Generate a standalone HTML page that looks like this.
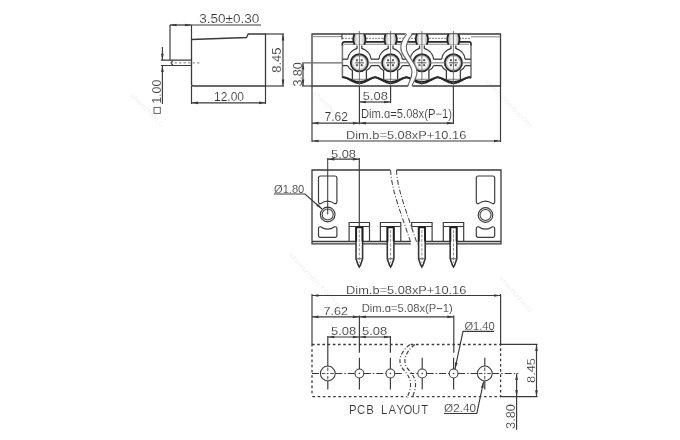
<!DOCTYPE html>
<html><head><meta charset="utf-8"><style>
html,body{margin:0;padding:0;background:#fff;width:680px;height:440px;overflow:hidden}
svg{display:block;will-change:transform}
text{font-family:"Liberation Sans",sans-serif}
</style></head><body>
<svg width="680" height="440" viewBox="0 0 680 440">
<rect width="680" height="440" fill="#fff"/>
<path d="M191.5,39.5 L246.5,37.5 L248.2,34 L265.5,34 L265.5,86 L193.5,86 Q191.5,86 191.5,84 Z" stroke="#3a3a3a" stroke-width="1.30" fill="none" />
<text transform="translate(500,276) rotate(48.5)" x="0" y="2.5" font-size="6.5" fill="#efefef" textLength="46.8" lengthAdjust="spacingAndGlyphs">shenzhen</text>
<text transform="translate(290,253.5) rotate(46.2)" x="0" y="2.5" font-size="6.5" fill="#efefef" textLength="72.3" lengthAdjust="spacingAndGlyphs">shenzhen.com.c</text>
<text transform="translate(486,80) rotate(45.0)" x="0" y="2.5" font-size="6.5" fill="#efefef" textLength="65.1" lengthAdjust="spacingAndGlyphs">shenzhen.com</text>
<text transform="translate(314.6,91.8) rotate(44.8)" x="0" y="2.5" font-size="6.5" fill="#efefef" textLength="35.8" lengthAdjust="spacingAndGlyphs">shenzhen.</text>
<text transform="translate(131.6,94) rotate(44.4)" x="0" y="2.5" font-size="6.5" fill="#efefef" textLength="44.0" lengthAdjust="spacingAndGlyphs">shenzhen.c</text>
<line x1="170" y1="25" x2="191.5" y2="25" stroke="#3a3a3a" stroke-width="1.30"/>
<line x1="191.5" y1="25" x2="261" y2="25" stroke="#3a3a3a" stroke-width="1.17"/>
<polygon points="170.00,25.00 176.50,23.65 176.50,26.35" fill="#3a3a3a"/>
<polygon points="191.50,25.00 185.00,23.65 185.00,26.35" fill="#3a3a3a"/>
<line x1="170" y1="25" x2="170" y2="60.2" stroke="#3a3a3a" stroke-width="1.17"/>
<line x1="191.5" y1="25" x2="191.5" y2="39.5" stroke="#3a3a3a" stroke-width="1.17"/>
<text transform="translate(199.2,23.4) scale(1.0,1)" x="0" y="0" font-size="12" fill="#333" stroke="#fff" stroke-width="0.15" textLength="60.20" lengthAdjust="spacingAndGlyphs">3.50±0.30</text>
<path d="M161,60.2 L191.5,60.2 M161,65.5 L191.5,65.5" stroke="#3a3a3a" stroke-width="1.17" fill="none" />
<path d="M173,60.4 Q170,62.9 173,65.3" stroke="#3a3a3a" stroke-width="1.17" fill="none" />
<line x1="170" y1="62.9" x2="199.5" y2="62.9" stroke="#777" stroke-width="0.91" stroke-dasharray="2.5,2"/>
<line x1="162.4" y1="47" x2="162.4" y2="60.2" stroke="#3a3a3a" stroke-width="1.17"/>
<polygon points="162.40,60.20 161.05,53.70 163.75,53.70" fill="#3a3a3a"/>
<line x1="162.4" y1="65.5" x2="162.4" y2="104" stroke="#3a3a3a" stroke-width="1.17"/>
<polygon points="162.40,65.50 161.05,72.00 163.75,72.00" fill="#3a3a3a"/>
<text transform="translate(161.0,103.8) rotate(-90) scale(1.0,1)" x="0" y="0" font-size="12" fill="#333" stroke="#fff" stroke-width="0.15" textLength="24.10" lengthAdjust="spacingAndGlyphs">1.00</text>
<rect x="154" y="107.4" width="6.3" height="6" stroke="#555" stroke-width="0.9" fill="none"/>
<line x1="191.5" y1="86" x2="191.5" y2="104" stroke="#3a3a3a" stroke-width="1.17"/>
<line x1="265.5" y1="86" x2="265.5" y2="104" stroke="#3a3a3a" stroke-width="1.17"/>
<line x1="191.5" y1="102.8" x2="265.5" y2="102.8" stroke="#3a3a3a" stroke-width="1.17"/>
<polygon points="191.50,102.80 198.00,101.45 198.00,104.15" fill="#3a3a3a"/>
<polygon points="265.50,102.80 259.00,101.45 259.00,104.15" fill="#3a3a3a"/>
<text transform="translate(214,100.6) scale(1.0,1)" x="0" y="0" font-size="12" fill="#333" stroke="#fff" stroke-width="0.15" textLength="30.00" lengthAdjust="spacingAndGlyphs">12.00</text>
<line x1="265.5" y1="34" x2="284" y2="34" stroke="#3a3a3a" stroke-width="1.17"/>
<line x1="265.5" y1="86" x2="284" y2="86" stroke="#3a3a3a" stroke-width="1.17"/>
<line x1="283" y1="34" x2="283" y2="86" stroke="#3a3a3a" stroke-width="1.17"/>
<polygon points="283.00,34.00 281.65,40.50 284.35,40.50" fill="#3a3a3a"/>
<polygon points="283.00,86.00 281.65,79.50 284.35,79.50" fill="#3a3a3a"/>
<text transform="translate(280.6,72.8) rotate(-90) scale(1.0,1)" x="0" y="0" font-size="12" fill="#333" stroke="#fff" stroke-width="0.15" textLength="25.40" lengthAdjust="spacingAndGlyphs">8.45</text>
<line x1="302" y1="86" x2="312" y2="86" stroke="#3a3a3a" stroke-width="1.17"/>
<line x1="303" y1="63" x2="303" y2="86" stroke="#3a3a3a" stroke-width="1.17"/>
<polygon points="303.00,63.00 301.65,69.50 304.35,69.50" fill="#3a3a3a"/>
<polygon points="303.00,86.00 301.65,79.50 304.35,79.50" fill="#3a3a3a"/>
<text transform="translate(301.8,86.6) rotate(-90) scale(1.0,1)" x="0" y="0" font-size="12" fill="#333" stroke="#fff" stroke-width="0.15" textLength="24.40" lengthAdjust="spacingAndGlyphs">3.80</text>
<defs><linearGradient id="barrel" x1="0" x2="1" y1="0" y2="0"><stop offset="0" stop-color="#999"/><stop offset="0.3" stop-color="#eee"/><stop offset="0.7" stop-color="#eee"/><stop offset="1" stop-color="#999"/></linearGradient></defs>
<path d="M312,34 L500.5,34 L500.5,86 L312,86 Z" stroke="#3a3a3a" stroke-width="1.30" fill="none" />
<line x1="312" y1="36.6" x2="342" y2="36.6" stroke="#888" stroke-width="1.04"/>
<line x1="471" y1="36.8" x2="500.5" y2="36.8" stroke="#888" stroke-width="1.04"/>
<line x1="342" y1="38.4" x2="471" y2="38.4" stroke="#999" stroke-width="1.43" stroke-dasharray="2,1"/>
<path d="M342,34 L342,39.5" stroke="#3a3a3a" stroke-width="1.17" fill="none" />
<path d="M342.4,46 L342.4,44 Q342.4,41.9 344.5,41.9 L469,41.9 Q471,41.9 471,44 L471,46" stroke="#2a2a2a" stroke-width="1.69" fill="none" />
<line x1="344" y1="44.3" x2="469" y2="44.3" stroke="#888" stroke-width="1.04"/>
<line x1="342.4" y1="45" x2="342.4" y2="77.5" stroke="#777" stroke-width="1.56"/>
<line x1="471" y1="45" x2="471" y2="78" stroke="#777" stroke-width="1.56"/>
<rect x="353.4" y="34.3" width="12" height="10" fill="url(#barrel)"/>
<path d="M354.59999999999997,34 Q351.79999999999995,39.2 354.59999999999997,44.6" stroke="#222" stroke-width="1.76" fill="none" />
<path d="M364.2,34 Q367.0,39.2 364.2,44.6" stroke="#222" stroke-width="1.76" fill="none" />
<path d="M357.0,45.5 L357.0,48.3 C353.4,49.5 348.09999999999997,53 347.7,59.2 M361.79999999999995,45.5 L361.79999999999995,48.3 C365.4,49.5 370.7,53 371.09999999999997,59.2" stroke="#3a3a3a" stroke-width="1.30" fill="none" />
<path d="M347.7,65.6 Q348.9,69 352.4,70.5 L352.4,79.5 M371.09999999999997,65.6 Q369.9,69 366.4,70.5 L366.4,79.5" stroke="#3a3a3a" stroke-width="1.30" fill="none" />
<line x1="352.4" y1="79.3" x2="366.4" y2="79.3" stroke="#888" stroke-width="1.04"/>
<circle cx="359.4" cy="62.8" r="7.0" stroke="#c4c4c4" stroke-width="1.56" fill="#fff"/>
<circle cx="359.4" cy="62.8" r="8.6" stroke="#2a2a2a" stroke-width="1.89" fill="none"/>
<rect x="355.9" y="59.199999999999996" width="2.0" height="2.0" fill="#555"/>
<rect x="360.69999999999993" y="59.199999999999996" width="2.0" height="2.0" fill="#555"/>
<rect x="355.9" y="64.2" width="2.0" height="2.0" fill="#555"/>
<rect x="360.69999999999993" y="64.2" width="2.0" height="2.0" fill="#555"/>
<line x1="354.9" y1="62.8" x2="363.9" y2="62.8" stroke="#666" stroke-width="1.17"/>
<rect x="384.6" y="34.3" width="12" height="10" fill="url(#barrel)"/>
<path d="M385.8,34 Q383.0,39.2 385.8,44.6" stroke="#222" stroke-width="1.76" fill="none" />
<path d="M395.40000000000003,34 Q398.20000000000005,39.2 395.40000000000003,44.6" stroke="#222" stroke-width="1.76" fill="none" />
<path d="M388.20000000000005,45.5 L388.20000000000005,48.3 C384.6,49.5 379.3,53 378.90000000000003,59.2 M393.0,45.5 L393.0,48.3 C396.6,49.5 401.90000000000003,53 402.3,59.2" stroke="#3a3a3a" stroke-width="1.30" fill="none" />
<path d="M378.90000000000003,65.6 Q380.1,69 383.6,70.5 L383.6,79.5 M402.3,65.6 Q401.1,69 397.6,70.5 L397.6,79.5" stroke="#3a3a3a" stroke-width="1.30" fill="none" />
<line x1="383.6" y1="79.3" x2="397.6" y2="79.3" stroke="#888" stroke-width="1.04"/>
<circle cx="390.6" cy="62.8" r="7.0" stroke="#c4c4c4" stroke-width="1.56" fill="#fff"/>
<circle cx="390.6" cy="62.8" r="8.6" stroke="#2a2a2a" stroke-width="1.89" fill="none"/>
<rect x="387.1" y="59.199999999999996" width="2.0" height="2.0" fill="#555"/>
<rect x="391.9" y="59.199999999999996" width="2.0" height="2.0" fill="#555"/>
<rect x="387.1" y="64.2" width="2.0" height="2.0" fill="#555"/>
<rect x="391.9" y="64.2" width="2.0" height="2.0" fill="#555"/>
<line x1="386.1" y1="62.8" x2="395.1" y2="62.8" stroke="#666" stroke-width="1.17"/>
<rect x="415.9" y="34.3" width="12" height="10" fill="url(#barrel)"/>
<path d="M417.09999999999997,34 Q414.29999999999995,39.2 417.09999999999997,44.6" stroke="#222" stroke-width="1.76" fill="none" />
<path d="M426.7,34 Q429.5,39.2 426.7,44.6" stroke="#222" stroke-width="1.76" fill="none" />
<path d="M419.5,45.5 L419.5,48.3 C415.9,49.5 410.59999999999997,53 410.2,59.2 M424.29999999999995,45.5 L424.29999999999995,48.3 C427.9,49.5 433.2,53 433.59999999999997,59.2" stroke="#3a3a3a" stroke-width="1.30" fill="none" />
<path d="M410.2,65.6 Q411.4,69 414.9,70.5 L414.9,79.5 M433.59999999999997,65.6 Q432.4,69 428.9,70.5 L428.9,79.5" stroke="#3a3a3a" stroke-width="1.30" fill="none" />
<line x1="414.9" y1="79.3" x2="428.9" y2="79.3" stroke="#888" stroke-width="1.04"/>
<circle cx="421.9" cy="62.8" r="7.0" stroke="#c4c4c4" stroke-width="1.56" fill="#fff"/>
<circle cx="421.9" cy="62.8" r="8.6" stroke="#2a2a2a" stroke-width="1.89" fill="none"/>
<rect x="418.4" y="59.199999999999996" width="2.0" height="2.0" fill="#555"/>
<rect x="423.19999999999993" y="59.199999999999996" width="2.0" height="2.0" fill="#555"/>
<rect x="418.4" y="64.2" width="2.0" height="2.0" fill="#555"/>
<rect x="423.19999999999993" y="64.2" width="2.0" height="2.0" fill="#555"/>
<line x1="417.4" y1="62.8" x2="426.4" y2="62.8" stroke="#666" stroke-width="1.17"/>
<rect x="447.4" y="34.3" width="12" height="10" fill="url(#barrel)"/>
<path d="M448.59999999999997,34 Q445.79999999999995,39.2 448.59999999999997,44.6" stroke="#222" stroke-width="1.76" fill="none" />
<path d="M458.2,34 Q461.0,39.2 458.2,44.6" stroke="#222" stroke-width="1.76" fill="none" />
<path d="M451.0,45.5 L451.0,48.3 C447.4,49.5 442.09999999999997,53 441.7,59.2 M455.79999999999995,45.5 L455.79999999999995,48.3 C459.4,49.5 464.7,53 465.09999999999997,59.2" stroke="#3a3a3a" stroke-width="1.30" fill="none" />
<path d="M441.7,65.6 Q442.9,69 446.4,70.5 L446.4,79.5 M465.09999999999997,65.6 Q463.9,69 460.4,70.5 L460.4,79.5" stroke="#3a3a3a" stroke-width="1.30" fill="none" />
<line x1="446.4" y1="79.3" x2="460.4" y2="79.3" stroke="#888" stroke-width="1.04"/>
<circle cx="453.4" cy="62.8" r="7.0" stroke="#c4c4c4" stroke-width="1.56" fill="#fff"/>
<circle cx="453.4" cy="62.8" r="8.6" stroke="#2a2a2a" stroke-width="1.89" fill="none"/>
<rect x="449.9" y="59.199999999999996" width="2.0" height="2.0" fill="#555"/>
<rect x="454.69999999999993" y="59.199999999999996" width="2.0" height="2.0" fill="#555"/>
<rect x="449.9" y="64.2" width="2.0" height="2.0" fill="#555"/>
<rect x="454.69999999999993" y="64.2" width="2.0" height="2.0" fill="#555"/>
<line x1="448.9" y1="62.8" x2="457.9" y2="62.8" stroke="#666" stroke-width="1.17"/>
<line x1="342.4" y1="59.2" x2="347.79999999999995" y2="59.2" stroke="#3a3a3a" stroke-width="1.30"/>
<line x1="342.4" y1="65.6" x2="347.79999999999995" y2="65.6" stroke="#3a3a3a" stroke-width="1.30"/>
<line x1="371.0" y1="59.2" x2="379.0" y2="59.2" stroke="#3a3a3a" stroke-width="1.30"/>
<line x1="371.0" y1="65.6" x2="379.0" y2="65.6" stroke="#3a3a3a" stroke-width="1.30"/>
<line x1="402.20000000000005" y1="59.2" x2="410.29999999999995" y2="59.2" stroke="#3a3a3a" stroke-width="1.30"/>
<line x1="402.20000000000005" y1="65.6" x2="410.29999999999995" y2="65.6" stroke="#3a3a3a" stroke-width="1.30"/>
<line x1="433.5" y1="59.2" x2="441.79999999999995" y2="59.2" stroke="#3a3a3a" stroke-width="1.30"/>
<line x1="433.5" y1="65.6" x2="441.79999999999995" y2="65.6" stroke="#3a3a3a" stroke-width="1.30"/>
<line x1="465.0" y1="59.2" x2="471" y2="59.2" stroke="#3a3a3a" stroke-width="1.30"/>
<line x1="465.0" y1="65.6" x2="471" y2="65.6" stroke="#3a3a3a" stroke-width="1.30"/>
<line x1="302" y1="62.8" x2="342" y2="62.8" stroke="#666" stroke-width="1.17"/>
<line x1="367.9" y1="62.8" x2="382.1" y2="62.8" stroke="#888" stroke-width="1.17"/>
<line x1="399.1" y1="62.8" x2="413.4" y2="62.8" stroke="#888" stroke-width="1.17"/>
<line x1="430.4" y1="62.8" x2="444.9" y2="62.8" stroke="#888" stroke-width="1.17"/>
<line x1="461.9" y1="62.8" x2="471" y2="62.8" stroke="#888" stroke-width="1.17"/>
<path d="M342.4,77.52 L342.9,77.41 L343.4,77.33 L343.9,77.31 L344.4,77.38 L344.9,77.48 L345.4,77.61 L345.9,77.76 L346.4,77.92 L346.9,78.10 L347.4,78.29 L347.9,78.49 L348.4,78.69 L348.9,78.90 L349.4,79.12 L349.9,79.33 L350.4,79.54 L350.9,79.76 L351.4,79.97 L351.9,80.17 L352.4,80.37 L352.9,80.56 L353.4,80.74 L353.9,80.92 L354.4,81.08 L354.9,81.23 L355.4,81.36 L355.9,81.49 L356.4,81.59 L356.9,81.69 L357.4,81.76 L357.9,81.82 L358.4,81.87 L358.9,81.89 L359.4,81.90 L359.9,81.89 L360.4,81.87 L360.9,81.82 L361.4,81.76 L361.9,81.69 L362.4,81.59 L362.9,81.49 L363.4,81.36 L363.9,81.23 L364.4,81.08 L364.9,80.92 L365.4,80.74 L365.9,80.56 L366.4,80.37 L366.9,80.17 L367.4,79.97 L367.9,79.76 L368.4,79.54 L368.9,79.33 L369.4,79.12 L369.9,78.90 L370.4,78.69 L370.9,78.49 L371.4,78.29 L371.9,78.10 L372.4,77.92 L372.9,77.76 L373.4,77.61 L373.9,77.48 L374.4,77.38 L374.9,77.31 L375.4,77.33 L375.9,77.41 L376.4,77.52 L376.9,77.66 L377.4,77.81 L377.9,77.98 L378.4,78.16 L378.9,78.36 L379.4,78.56 L379.9,78.76 L380.4,78.97 L380.9,79.19 L381.4,79.40 L381.9,79.62 L382.4,79.83 L382.9,80.04 L383.4,80.24 L383.9,80.44 L384.4,80.62 L384.9,80.80 L385.4,80.97 L385.9,81.13 L386.4,81.27 L386.9,81.41 L387.4,81.52 L387.9,81.63 L388.4,81.71 L388.9,81.78 L389.4,81.84 L389.9,81.88 L390.4,81.90 L390.9,81.90 L391.4,81.88 L391.9,81.85 L392.4,81.80 L392.9,81.74 L393.4,81.66 L393.9,81.56 L394.4,81.45 L394.9,81.32 L395.4,81.18 L395.9,81.02 L396.4,80.86 L396.9,80.68 L397.4,80.50 L397.9,80.30 L398.4,80.10 L398.9,79.90 L399.4,79.68 L399.9,79.47 L400.4,79.26 L400.9,79.04 L401.4,78.83 L401.9,78.62 L402.4,78.42 L402.9,78.23 L403.4,78.04 L403.9,77.87 L404.4,77.71 L404.9,77.57 L405.4,77.44 L405.9,77.35 L406.4,77.30 L406.9,77.35 L407.4,77.45 L407.9,77.57 L408.4,77.71 L408.9,77.87 L409.4,78.04 L409.9,78.23 L410.4,78.42 L410.9,78.63 L411.4,78.83 L411.9,79.05 L412.4,79.26 L412.9,79.48 L413.4,79.69 L413.9,79.90 L414.4,80.11 L414.9,80.31 L415.4,80.50 L415.9,80.69 L416.4,80.86 L416.9,81.03 L417.4,81.18 L417.9,81.32 L418.4,81.45 L418.9,81.56 L419.4,81.66 L419.9,81.74 L420.4,81.80 L420.9,81.85 L421.4,81.88 L421.9,81.90 L422.4,81.90 L422.9,81.88 L423.4,81.84 L423.9,81.78 L424.4,81.71 L424.9,81.62 L425.4,81.52 L425.9,81.40 L426.4,81.27 L426.9,81.13 L427.4,80.97 L427.9,80.80 L428.4,80.62 L428.9,80.43 L429.4,80.24 L429.9,80.03 L430.4,79.82 L430.9,79.61 L431.4,79.40 L431.9,79.18 L432.4,78.97 L432.9,78.76 L433.4,78.55 L433.9,78.35 L434.4,78.16 L434.9,77.98 L435.4,77.81 L435.9,77.66 L436.4,77.52 L436.9,77.41 L437.4,77.33 L437.9,77.31 L438.4,77.38 L438.9,77.49 L439.4,77.61 L439.9,77.76 L440.4,77.93 L440.9,78.11 L441.4,78.29 L441.9,78.49 L442.4,78.70 L442.9,78.91 L443.4,79.12 L443.9,79.33 L444.4,79.55 L444.9,79.76 L445.4,79.97 L445.9,80.17 L446.4,80.37 L446.9,80.56 L447.4,80.75 L447.9,80.92 L448.4,81.08 L448.9,81.23 L449.4,81.37 L449.9,81.49 L450.4,81.60 L450.9,81.69 L451.4,81.76 L451.9,81.82 L452.4,81.87 L452.9,81.89 L453.4,81.90 L453.9,81.89 L454.4,81.86 L454.9,81.82 L455.4,81.76 L455.9,81.68 L456.4,81.59 L456.9,81.48 L457.4,81.36 L457.9,81.22 L458.4,81.07 L458.9,80.91 L459.4,80.74 L459.9,80.56 L460.4,80.37 L460.9,80.17 L461.4,79.96 L461.9,79.75 L462.4,79.54 L462.9,79.33 L463.4,79.11 L463.9,78.90 L464.4,78.69 L464.9,78.48 L465.4,78.29 L465.9,78.10 L466.4,77.92 L466.9,77.76 L467.4,77.61 L467.9,77.48 L468.4,77.38 L468.9,77.31 L469.4,77.33 L469.9,77.41 L470.4,77.53 L470.9,77.66" stroke="#222" stroke-width="1.95" fill="none" />
<path d="M342.4,77.59 L342.9,77.45 L343.4,77.34 L343.9,77.31 L344.4,77.40 L344.9,77.54 L345.4,77.71 L345.9,77.90 L346.4,78.11 L346.9,78.35 L347.4,78.59 L347.9,78.85 L348.4,79.12 L348.9,79.39 L349.4,79.67 L349.9,79.95 L350.4,80.23 L350.9,80.50 L351.4,80.78 L351.9,81.04 L352.4,81.30 L352.9,81.55 L353.4,81.79 L353.9,82.02 L354.4,82.23 L354.9,82.42 L355.4,82.60 L355.9,82.76 L356.4,82.90 L356.9,83.02 L357.4,83.12 L357.9,83.20 L358.4,83.25 L358.9,83.29 L359.4,83.30 L359.9,83.29 L360.4,83.25 L360.9,83.20 L361.4,83.12 L361.9,83.02 L362.4,82.90 L362.9,82.76 L363.4,82.60 L363.9,82.42 L364.4,82.23 L364.9,82.02 L365.4,81.79 L365.9,81.55 L366.4,81.30 L366.9,81.04 L367.4,80.78 L367.9,80.50 L368.4,80.23 L368.9,79.95 L369.4,79.67 L369.9,79.39 L370.4,79.12 L370.9,78.85 L371.4,78.59 L371.9,78.35 L372.4,78.11 L372.9,77.90 L373.4,77.71 L373.9,77.54 L374.4,77.40 L374.9,77.31 L375.4,77.34 L375.9,77.45 L376.4,77.59 L376.9,77.77 L377.4,77.97 L377.9,78.19 L378.4,78.43 L378.9,78.68 L379.4,78.94 L379.9,79.21 L380.4,79.48 L380.9,79.76 L381.4,80.04 L381.9,80.32 L382.4,80.60 L382.9,80.87 L383.4,81.13 L383.9,81.39 L384.4,81.64 L384.9,81.87 L385.4,82.09 L385.9,82.30 L386.4,82.48 L386.9,82.66 L387.4,82.81 L387.9,82.94 L388.4,83.06 L388.9,83.15 L389.4,83.22 L389.9,83.27 L390.4,83.30 L390.9,83.30 L391.4,83.28 L391.9,83.24 L392.4,83.17 L392.9,83.09 L393.4,82.98 L393.9,82.85 L394.4,82.71 L394.9,82.54 L395.4,82.36 L395.9,82.16 L396.4,81.94 L396.9,81.71 L397.4,81.47 L397.9,81.22 L398.4,80.95 L398.9,80.69 L399.4,80.41 L399.9,80.13 L400.4,79.85 L400.9,79.57 L401.4,79.30 L401.9,79.03 L402.4,78.76 L402.9,78.51 L403.4,78.27 L403.9,78.04 L404.4,77.83 L404.9,77.65 L405.4,77.49 L405.9,77.37 L406.4,77.30 L406.9,77.37 L407.4,77.49 L407.9,77.65 L408.4,77.84 L408.9,78.04 L409.4,78.27 L409.9,78.51 L410.4,78.77 L410.9,79.03 L411.4,79.30 L411.9,79.58 L412.4,79.86 L412.9,80.14 L413.4,80.42 L413.9,80.69 L414.4,80.96 L414.9,81.22 L415.4,81.47 L415.9,81.72 L416.4,81.95 L416.9,82.16 L417.4,82.36 L417.9,82.55 L418.4,82.71 L418.9,82.86 L419.4,82.98 L419.9,83.09 L420.4,83.18 L420.9,83.24 L421.4,83.28 L421.9,83.30 L422.4,83.29 L422.9,83.27 L423.4,83.22 L423.9,83.15 L424.4,83.06 L424.9,82.94 L425.4,82.81 L425.9,82.65 L426.4,82.48 L426.9,82.29 L427.4,82.09 L427.9,81.86 L428.4,81.63 L428.9,81.38 L429.4,81.13 L429.9,80.86 L430.4,80.59 L430.9,80.32 L431.4,80.04 L431.9,79.76 L432.4,79.48 L432.9,79.20 L433.4,78.93 L433.9,78.67 L434.4,78.42 L434.9,78.19 L435.4,77.97 L435.9,77.77 L436.4,77.59 L436.9,77.44 L437.4,77.34 L437.9,77.31 L438.4,77.41 L438.9,77.54 L439.4,77.71 L439.9,77.90 L440.4,78.12 L440.9,78.35 L441.4,78.60 L441.9,78.86 L442.4,79.12 L442.9,79.40 L443.4,79.67 L443.9,79.95 L444.4,80.23 L444.9,80.51 L445.4,80.78 L445.9,81.05 L446.4,81.31 L446.9,81.56 L447.4,81.80 L447.9,82.02 L448.4,82.23 L448.9,82.43 L449.4,82.60 L449.9,82.76 L450.4,82.90 L450.9,83.02 L451.4,83.12 L451.9,83.20 L452.4,83.26 L452.9,83.29 L453.4,83.30 L453.9,83.29 L454.4,83.25 L454.9,83.20 L455.4,83.12 L455.9,83.02 L456.4,82.90 L456.9,82.76 L457.4,82.60 L457.9,82.42 L458.4,82.22 L458.9,82.01 L459.4,81.79 L459.9,81.55 L460.4,81.30 L460.9,81.04 L461.4,80.77 L461.9,80.50 L462.4,80.22 L462.9,79.94 L463.4,79.66 L463.9,79.38 L464.4,79.11 L464.9,78.84 L465.4,78.59 L465.9,78.34 L466.4,78.11 L466.9,77.90 L467.4,77.70 L467.9,77.54 L468.4,77.40 L468.9,77.31 L469.4,77.34 L469.9,77.45 L470.4,77.60 L470.9,77.77" stroke="#2a2a2a" stroke-width="1.56" fill="none" />
<line x1="359.4" y1="31" x2="359.4" y2="86" stroke="#666" stroke-width="0.91"/>
<line x1="390.6" y1="31" x2="390.6" y2="86" stroke="#666" stroke-width="0.91"/>
<line x1="421.9" y1="31" x2="421.9" y2="86" stroke="#666" stroke-width="0.91"/>
<line x1="453.4" y1="31" x2="453.4" y2="86" stroke="#666" stroke-width="0.91"/>
<path d="M406.7,32 C402,40 400,45 401,50 C403,58 412,64 412,72 C412,78 409,82 407.8,88 L412,88 C413,82 417,78 417,72 C417,64 408.5,58 406.5,50 C405.5,45 407.5,40 412.5,32 Z" stroke="#fff" stroke-width="0.00" fill="#fff" />
<path d="M406.7,34 C402,40 400,45 401,50 C403,58 412,64 412,72 C412,78 409,82 407.8,86" stroke="#666" stroke-width="1.17" fill="none" />
<path d="M412.5,34 C407.5,40 405.5,45 406.5,50 C408.5,58 417,64 417,72 C417,78 413,82 412,86" stroke="#666" stroke-width="1.17" fill="none" />
<line x1="312" y1="86" x2="312" y2="142" stroke="#3a3a3a" stroke-width="1.17"/>
<line x1="500.5" y1="86" x2="500.5" y2="142" stroke="#3a3a3a" stroke-width="1.17"/>
<line x1="359.4" y1="86" x2="359.4" y2="124.3" stroke="#3a3a3a" stroke-width="1.17"/>
<line x1="390.6" y1="86" x2="390.6" y2="103" stroke="#3a3a3a" stroke-width="1.17"/>
<line x1="453.4" y1="86" x2="453.4" y2="124" stroke="#3a3a3a" stroke-width="1.17"/>
<line x1="359.4" y1="102" x2="390.6" y2="102" stroke="#3a3a3a" stroke-width="1.17"/>
<polygon points="359.40,102.00 365.90,100.65 365.90,103.35" fill="#3a3a3a"/>
<polygon points="390.60,102.00 384.10,100.65 384.10,103.35" fill="#3a3a3a"/>
<text transform="translate(362.8,100.2) scale(1.0,1)" x="0" y="0" font-size="11.5" fill="#333" stroke="#fff" stroke-width="0.15" textLength="25.20" lengthAdjust="spacingAndGlyphs">5.08</text>
<line x1="312" y1="123.2" x2="453.4" y2="123.2" stroke="#3a3a3a" stroke-width="1.17"/>
<polygon points="312.00,123.20 318.50,121.85 318.50,124.55" fill="#3a3a3a"/>
<polygon points="359.40,123.20 352.90,121.85 352.90,124.55" fill="#3a3a3a"/>
<polygon points="359.40,123.20 365.90,121.85 365.90,124.55" fill="#3a3a3a"/>
<polygon points="453.40,123.20 446.90,121.85 446.90,124.55" fill="#3a3a3a"/>
<text transform="translate(324.4,121.4) scale(1.0,1)" x="0" y="0" font-size="12" fill="#333" stroke="#fff" stroke-width="0.15" textLength="23.60" lengthAdjust="spacingAndGlyphs">7.62</text>
<text transform="translate(360.9,118.4) scale(1.0,1)" x="0" y="0" font-size="12" fill="#333" stroke="#fff" stroke-width="0.15" textLength="91.10" lengthAdjust="spacingAndGlyphs">Dim.ɑ=5.08x(P−1)</text>
<line x1="312" y1="141" x2="500.5" y2="141" stroke="#3a3a3a" stroke-width="1.17"/>
<polygon points="312.00,141.00 318.50,139.65 318.50,142.35" fill="#3a3a3a"/>
<polygon points="500.50,141.00 494.00,139.65 494.00,142.35" fill="#3a3a3a"/>
<text transform="translate(346,139.2) scale(1.0,1)" x="0" y="0" font-size="11.5" fill="#333" stroke="#fff" stroke-width="0.15" textLength="120.30" lengthAdjust="spacingAndGlyphs">Dim.b=5.08xP+10.16</text>
<path d="M390.5,170 L312,170 L312,243.9 L411.6,243.9 M411.6,241.5 L312,241.5" stroke="#3a3a3a" stroke-width="1.30" fill="none" />
<path d="M396.2,170 L501,170 L501,243.9 L417.7,243.9 M417.7,241.5 L501,241.5" stroke="#3a3a3a" stroke-width="1.30" fill="none" />
<path d="M318.5,178 Q318.5,176 320.5,176 L334.9,176 Q336.9,176 336.9,178 L336.9,201.5 Q336.9,204 334.7,203.6 Q327.7,198.5 320.7,203.6 Q318.5,204 318.5,201.5 Z" stroke="#3a3a3a" stroke-width="1.17" fill="none" />
<circle cx="327.7" cy="214.5" r="7.3" stroke="#3a3a3a" stroke-width="1.17" fill="none"/>
<circle cx="327.7" cy="214.5" r="5.5" stroke="#3a3a3a" stroke-width="1.04" fill="none"/>
<path d="M318.5,229 Q318.5,226.5 320.7,226.8 Q327.7,231.6 334.7,226.8 Q336.9,226.5 336.9,229 L336.9,235.5 Q336.9,237.4 334.9,237.4 L320.5,237.4 Q318.5,237.4 318.5,235.5 Z" stroke="#3a3a3a" stroke-width="1.17" fill="none" />
<path d="M476.3,178 Q476.3,176 478.3,176 L492.7,176 Q494.7,176 494.7,178 L494.7,201.5 Q494.7,204 492.5,203.6 Q485.5,198.5 478.5,203.6 Q476.3,204 476.3,201.5 Z" stroke="#3a3a3a" stroke-width="1.17" fill="none" />
<circle cx="485.5" cy="215" r="7.3" stroke="#3a3a3a" stroke-width="1.17" fill="none"/>
<circle cx="485.5" cy="215" r="5.5" stroke="#3a3a3a" stroke-width="1.04" fill="none"/>
<path d="M476.3,229 Q476.3,226.5 478.5,226.8 Q485.5,231.6 492.5,226.8 Q494.7,226.5 494.7,229 L494.7,235.5 Q494.7,237.4 492.7,237.4 L478.3,237.4 Q476.3,237.4 476.3,235.5 Z" stroke="#3a3a3a" stroke-width="1.17" fill="none" />
<line x1="327.7" y1="158" x2="327.7" y2="214.5" stroke="#3a3a3a" stroke-width="1.04"/>
<line x1="359.3" y1="158" x2="359.3" y2="227.5" stroke="#3a3a3a" stroke-width="1.17"/>
<line x1="327.7" y1="159.2" x2="359.3" y2="159.2" stroke="#3a3a3a" stroke-width="1.17"/>
<polygon points="327.70,159.20 334.20,157.85 334.20,160.55" fill="#3a3a3a"/>
<polygon points="359.30,159.20 352.80,157.85 352.80,160.55" fill="#3a3a3a"/>
<text transform="translate(331,157.8) scale(1.0,1)" x="0" y="0" font-size="11.5" fill="#333" stroke="#fff" stroke-width="0.15" textLength="25.00" lengthAdjust="spacingAndGlyphs">5.08</text>
<text transform="translate(274,192.6) scale(1.0,1)" x="0" y="0" font-size="11.5" fill="#333" stroke="#fff" stroke-width="0.15" textLength="30.30" lengthAdjust="spacingAndGlyphs">Ø1.80</text>
<path d="M274,194 L305,194 L322,209" stroke="#3a3a3a" stroke-width="1.17" fill="none" />
<polygon points="322.00,209.00 316.23,205.71 318.02,203.69" fill="#3a3a3a"/>
<path d="M349.1,241.5 L349.1,222.5 L369.5,222.5 L369.5,241.5" stroke="#3a3a3a" stroke-width="1.17" fill="none" />
<line x1="349.1" y1="226.5" x2="369.5" y2="226.5" stroke="#3a3a3a" stroke-width="1.04"/>
<path d="M356.0,244 L356.0,227 L362.6,227 L362.6,258.8 L360.5,265 L359.3,267 L358.1,265 L356.0,258.8 Z" stroke="#333" stroke-width="1.56" fill="#fff" />
<path d="M356.2,241.5 L356.2,227.3 L362.40000000000003,227.3 L362.40000000000003,241.5" stroke="#1e1e1e" stroke-width="1.76" fill="none" />
<line x1="356.0" y1="258.8" x2="362.6" y2="258.8" stroke="#555" stroke-width="1.04"/>
<line x1="359.3" y1="230" x2="359.3" y2="263" stroke="#888" stroke-width="0.91" stroke-dasharray="3,1.5"/>
<path d="M380.40000000000003,241.5 L380.40000000000003,222.5 L400.8,222.5 L400.8,241.5" stroke="#3a3a3a" stroke-width="1.17" fill="none" />
<line x1="380.40000000000003" y1="226.5" x2="400.8" y2="226.5" stroke="#3a3a3a" stroke-width="1.04"/>
<path d="M387.3,244 L387.3,227 L393.90000000000003,227 L393.90000000000003,258.8 L391.8,265 L390.6,267 L389.40000000000003,265 L387.3,258.8 Z" stroke="#333" stroke-width="1.56" fill="#fff" />
<path d="M387.5,241.5 L387.5,227.3 L393.70000000000005,227.3 L393.70000000000005,241.5" stroke="#1e1e1e" stroke-width="1.76" fill="none" />
<line x1="387.3" y1="258.8" x2="393.90000000000003" y2="258.8" stroke="#555" stroke-width="1.04"/>
<line x1="390.6" y1="230" x2="390.6" y2="263" stroke="#888" stroke-width="0.91" stroke-dasharray="3,1.5"/>
<path d="M411.7,241.5 L411.7,222.5 L432.09999999999997,222.5 L432.09999999999997,241.5" stroke="#3a3a3a" stroke-width="1.17" fill="none" />
<line x1="411.7" y1="226.5" x2="432.09999999999997" y2="226.5" stroke="#3a3a3a" stroke-width="1.04"/>
<path d="M418.59999999999997,244 L418.59999999999997,227 L425.2,227 L425.2,258.8 L423.09999999999997,265 L421.9,267 L420.7,265 L418.59999999999997,258.8 Z" stroke="#333" stroke-width="1.56" fill="#fff" />
<path d="M418.79999999999995,241.5 L418.79999999999995,227.3 L425.0,227.3 L425.0,241.5" stroke="#1e1e1e" stroke-width="1.76" fill="none" />
<line x1="418.59999999999997" y1="258.8" x2="425.2" y2="258.8" stroke="#555" stroke-width="1.04"/>
<line x1="421.9" y1="230" x2="421.9" y2="263" stroke="#888" stroke-width="0.91" stroke-dasharray="3,1.5"/>
<path d="M443.3,241.5 L443.3,222.5 L463.7,222.5 L463.7,241.5" stroke="#3a3a3a" stroke-width="1.17" fill="none" />
<line x1="443.3" y1="226.5" x2="463.7" y2="226.5" stroke="#3a3a3a" stroke-width="1.04"/>
<path d="M450.2,244 L450.2,227 L456.8,227 L456.8,258.8 L454.7,265 L453.5,267 L452.3,265 L450.2,258.8 Z" stroke="#333" stroke-width="1.56" fill="#fff" />
<path d="M450.4,241.5 L450.4,227.3 L456.6,227.3 L456.6,241.5" stroke="#1e1e1e" stroke-width="1.76" fill="none" />
<line x1="450.2" y1="258.8" x2="456.8" y2="258.8" stroke="#555" stroke-width="1.04"/>
<line x1="453.5" y1="230" x2="453.5" y2="263" stroke="#888" stroke-width="0.91" stroke-dasharray="3,1.5"/>
<path d="M390.5,169 C391.5,190 400,210 411.2,245 L417.2,245 C406,210 397.5,190 396.4,169 Z" stroke="#fff" stroke-width="0.00" fill="#fff" />
<path d="M390.6,170 C391.5,190 400,210 411.2,244" stroke="#444" stroke-width="1.04" fill="none" stroke-dasharray="5,2,1,2" />
<path d="M396.4,170 C397.5,190 406,210 417.2,244" stroke="#444" stroke-width="1.04" fill="none" stroke-dasharray="5,2,1,2" />
<line x1="312" y1="294" x2="312" y2="344" stroke="#3a3a3a" stroke-width="1.17"/>
<line x1="500.6" y1="294" x2="500.6" y2="344" stroke="#3a3a3a" stroke-width="1.17"/>
<line x1="312" y1="295.5" x2="500.6" y2="295.5" stroke="#3a3a3a" stroke-width="1.17"/>
<polygon points="312.00,295.50 318.50,294.15 318.50,296.85" fill="#3a3a3a"/>
<polygon points="500.60,295.50 494.10,294.15 494.10,296.85" fill="#3a3a3a"/>
<text transform="translate(346.1,294.2) scale(1.0,1)" x="0" y="0" font-size="11.5" fill="#333" stroke="#fff" stroke-width="0.15" textLength="120.20" lengthAdjust="spacingAndGlyphs">Dim.b=5.08xP+10.16</text>
<line x1="312" y1="316.8" x2="453.8" y2="316.8" stroke="#3a3a3a" stroke-width="1.17"/>
<polygon points="312.00,316.80 318.50,315.45 318.50,318.15" fill="#3a3a3a"/>
<polygon points="359.40,316.80 352.90,315.45 352.90,318.15" fill="#3a3a3a"/>
<polygon points="359.40,316.80 365.90,315.45 365.90,318.15" fill="#3a3a3a"/>
<polygon points="453.80,316.80 447.30,315.45 447.30,318.15" fill="#3a3a3a"/>
<text transform="translate(323.6,314.8) scale(1.0,1)" x="0" y="0" font-size="11.5" fill="#333" stroke="#fff" stroke-width="0.15" textLength="24.40" lengthAdjust="spacingAndGlyphs">7.62</text>
<text transform="translate(361.7,312.2) scale(1.0,1)" x="0" y="0" font-size="11.5" fill="#333" stroke="#fff" stroke-width="0.15" textLength="91.10" lengthAdjust="spacingAndGlyphs">Dim.ɑ=5.08x(P−1)</text>
<line x1="359.4" y1="315.5" x2="359.4" y2="352.7" stroke="#3a3a3a" stroke-width="1.17"/>
<line x1="453.8" y1="315.5" x2="453.8" y2="352.7" stroke="#3a3a3a" stroke-width="1.17"/>
<line x1="390.4" y1="336" x2="390.4" y2="352.7" stroke="#3a3a3a" stroke-width="1.17"/>
<line x1="327.8" y1="337" x2="390.4" y2="337" stroke="#3a3a3a" stroke-width="1.17"/>
<polygon points="327.80,337.00 334.30,335.65 334.30,338.35" fill="#3a3a3a"/>
<polygon points="359.40,337.00 352.90,335.65 352.90,338.35" fill="#3a3a3a"/>
<polygon points="359.40,337.00 365.90,335.65 365.90,338.35" fill="#3a3a3a"/>
<polygon points="390.40,337.00 383.90,335.65 383.90,338.35" fill="#3a3a3a"/>
<text transform="translate(331,334.9) scale(1.0,1)" x="0" y="0" font-size="11.5" fill="#333" stroke="#fff" stroke-width="0.15" textLength="25.10" lengthAdjust="spacingAndGlyphs">5.08</text>
<text transform="translate(362,334.9) scale(1.0,1)" x="0" y="0" font-size="11.5" fill="#333" stroke="#fff" stroke-width="0.15" textLength="25.20" lengthAdjust="spacingAndGlyphs">5.08</text>
<path d="M312,344.5 L500.6,344.5 L500.6,396.7 L314,396.7 Q312,396.7 312,394.7 Z" stroke="#3a3a3a" stroke-width="1.30" fill="none" stroke-dasharray="2.6,2.6" />
<line x1="312" y1="373.5" x2="320.40000000000003" y2="373.5" stroke="#3a3a3a" stroke-width="1.04" stroke-dasharray="7,2,1.5,2"/>
<line x1="335.2" y1="373.5" x2="355.0" y2="373.5" stroke="#3a3a3a" stroke-width="1.04" stroke-dasharray="7,2,1.5,2"/>
<line x1="363.79999999999995" y1="373.5" x2="386.0" y2="373.5" stroke="#3a3a3a" stroke-width="1.04" stroke-dasharray="7,2,1.5,2"/>
<line x1="394.79999999999995" y1="373.5" x2="417.8" y2="373.5" stroke="#3a3a3a" stroke-width="1.04" stroke-dasharray="7,2,1.5,2"/>
<line x1="426.59999999999997" y1="373.5" x2="449.20000000000005" y2="373.5" stroke="#3a3a3a" stroke-width="1.04" stroke-dasharray="7,2,1.5,2"/>
<line x1="458.0" y1="373.5" x2="477.40000000000003" y2="373.5" stroke="#3a3a3a" stroke-width="1.04" stroke-dasharray="7,2,1.5,2"/>
<line x1="492.2" y1="373.5" x2="518.3" y2="373.5" stroke="#3a3a3a" stroke-width="1.04" stroke-dasharray="7,2,1.5,2"/>
<circle cx="327.8" cy="373.5" r="7.4" stroke="#3a3a3a" stroke-width="1.04" fill="none"/>
<circle cx="327.8" cy="373.5" r="0.8" fill="#3a3a3a"/>
<line x1="321.8" y1="373.5" x2="325.3" y2="373.5" stroke="#3a3a3a" stroke-width="0.91"/>
<line x1="330.3" y1="373.5" x2="333.8" y2="373.5" stroke="#3a3a3a" stroke-width="0.91"/>
<line x1="327.8" y1="367.5" x2="327.8" y2="371.0" stroke="#3a3a3a" stroke-width="0.91"/>
<line x1="327.8" y1="376.0" x2="327.8" y2="379.5" stroke="#3a3a3a" stroke-width="0.91"/>
<line x1="327.8" y1="380.9" x2="327.8" y2="389.5" stroke="#3a3a3a" stroke-width="1.17"/>
<circle cx="359.4" cy="373.5" r="4.4" stroke="#3a3a3a" stroke-width="1.04" fill="none"/>
<circle cx="359.4" cy="373.5" r="0.8" fill="#3a3a3a"/>
<line x1="359.4" y1="357.7" x2="359.4" y2="369.1" stroke="#3a3a3a" stroke-width="1.17"/>
<line x1="359.4" y1="377.9" x2="359.4" y2="389.5" stroke="#3a3a3a" stroke-width="1.17"/>
<circle cx="390.4" cy="373.5" r="4.4" stroke="#3a3a3a" stroke-width="1.04" fill="none"/>
<circle cx="390.4" cy="373.5" r="0.8" fill="#3a3a3a"/>
<line x1="390.4" y1="357.7" x2="390.4" y2="369.1" stroke="#3a3a3a" stroke-width="1.17"/>
<line x1="390.4" y1="377.9" x2="390.4" y2="389.5" stroke="#3a3a3a" stroke-width="1.17"/>
<circle cx="422.2" cy="373.5" r="4.4" stroke="#3a3a3a" stroke-width="1.04" fill="none"/>
<circle cx="422.2" cy="373.5" r="0.8" fill="#3a3a3a"/>
<line x1="422.2" y1="357.7" x2="422.2" y2="369.1" stroke="#3a3a3a" stroke-width="1.17"/>
<line x1="422.2" y1="377.9" x2="422.2" y2="389.5" stroke="#3a3a3a" stroke-width="1.17"/>
<circle cx="453.6" cy="373.5" r="4.4" stroke="#3a3a3a" stroke-width="1.04" fill="none"/>
<circle cx="453.6" cy="373.5" r="0.8" fill="#3a3a3a"/>
<line x1="453.6" y1="357.7" x2="453.6" y2="369.1" stroke="#3a3a3a" stroke-width="1.17"/>
<line x1="453.6" y1="377.9" x2="453.6" y2="389.5" stroke="#3a3a3a" stroke-width="1.17"/>
<circle cx="484.8" cy="373.5" r="7.4" stroke="#3a3a3a" stroke-width="1.04" fill="none"/>
<circle cx="484.8" cy="373.5" r="0.8" fill="#3a3a3a"/>
<line x1="478.8" y1="373.5" x2="482.3" y2="373.5" stroke="#3a3a3a" stroke-width="0.91"/>
<line x1="487.3" y1="373.5" x2="490.8" y2="373.5" stroke="#3a3a3a" stroke-width="0.91"/>
<line x1="484.8" y1="367.5" x2="484.8" y2="371.0" stroke="#3a3a3a" stroke-width="0.91"/>
<line x1="484.8" y1="376.0" x2="484.8" y2="379.5" stroke="#3a3a3a" stroke-width="0.91"/>
<line x1="484.8" y1="380.9" x2="484.8" y2="389.5" stroke="#3a3a3a" stroke-width="1.17"/>
<line x1="327.8" y1="336" x2="327.8" y2="366.1" stroke="#3a3a3a" stroke-width="1.17"/>
<line x1="484.8" y1="357.7" x2="484.8" y2="366.1" stroke="#3a3a3a" stroke-width="1.17"/>
<path d="M410,344.5 C400,352 397,362 403,369 C409,376 414,382 407.5,396.7" stroke="#fff" stroke-width="6.00" fill="none" />
<path d="M410,344.5 C400,352 397,362 403,369 C409,376 414,382 407.5,396.7" stroke="#444" stroke-width="1.17" fill="none" stroke-dasharray="4,2,1,2" />
<path d="M415,344.5 C405,352 402,362 408,369 C414,376 419,382 412.5,396.7" stroke="#444" stroke-width="1.17" fill="none" stroke-dasharray="4,2,1,2" />
<text transform="translate(464.4,329.6) scale(1.0,1)" x="0" y="0" font-size="11.5" fill="#333" stroke="#fff" stroke-width="0.15" textLength="30.30" lengthAdjust="spacingAndGlyphs">Ø1.40</text>
<path d="M494,331.3 L463,331.3 L455,369" stroke="#3a3a3a" stroke-width="1.17" fill="none" />
<polygon points="455.00,369.00 455.03,362.36 457.67,362.92" fill="#3a3a3a"/>
<line x1="500.6" y1="344.4" x2="537.5" y2="344.4" stroke="#3a3a3a" stroke-width="1.17"/>
<line x1="500.6" y1="396.7" x2="537.5" y2="396.7" stroke="#3a3a3a" stroke-width="1.17"/>
<line x1="536.5" y1="344.4" x2="536.5" y2="396.7" stroke="#3a3a3a" stroke-width="1.17"/>
<polygon points="536.50,344.40 535.15,350.90 537.85,350.90" fill="#3a3a3a"/>
<polygon points="536.50,396.70 535.15,390.20 537.85,390.20" fill="#3a3a3a"/>
<text transform="translate(534.6,383) rotate(-90) scale(1.0,1)" x="0" y="0" font-size="11.5" fill="#333" stroke="#fff" stroke-width="0.15" textLength="25.00" lengthAdjust="spacingAndGlyphs">8.45</text>
<line x1="516.6" y1="373.5" x2="516.6" y2="429.7" stroke="#3a3a3a" stroke-width="1.17"/>
<polygon points="516.60,373.50 515.25,380.00 517.95,380.00" fill="#3a3a3a"/>
<polygon points="516.60,396.70 515.25,390.20 517.95,390.20" fill="#3a3a3a"/>
<text transform="translate(515,429) rotate(-90) scale(1.0,1)" x="0" y="0" font-size="12" fill="#333" stroke="#fff" stroke-width="0.15" textLength="25.00" lengthAdjust="spacingAndGlyphs">3.80</text>
<text transform="translate(444.1,412.2) scale(1.0,1)" x="0" y="0" font-size="11.5" fill="#333" stroke="#fff" stroke-width="0.15" textLength="31.90" lengthAdjust="spacingAndGlyphs">Ø2.40</text>
<path d="M444,413.5 L476.8,413.5 L483.6,381.5" stroke="#3a3a3a" stroke-width="1.17" fill="none" />
<polygon points="483.60,381.50 483.57,388.14 480.93,387.58" fill="#3a3a3a"/>
<text transform="translate(349.12,414.4) scale(0.95,1)" font-size="12" fill="#333" stroke="#fff" stroke-width="0.15">P</text>
<text transform="translate(357.04,414.4) scale(0.95,1)" font-size="12" fill="#333" stroke="#fff" stroke-width="0.15">C</text>
<text transform="translate(366.32,414.4) scale(0.95,1)" font-size="12" fill="#333" stroke="#fff" stroke-width="0.15">B</text>
<text transform="translate(381.07,414.4) scale(0.95,1)" font-size="12" fill="#333" stroke="#fff" stroke-width="0.15">L</text>
<text transform="translate(388.50,414.4) scale(0.95,1)" font-size="12" fill="#333" stroke="#fff" stroke-width="0.15">A</text>
<text transform="translate(396.54,414.4) scale(0.95,1)" font-size="12" fill="#333" stroke="#fff" stroke-width="0.15">Y</text>
<text transform="translate(403.44,414.4) scale(0.95,1)" font-size="12" fill="#333" stroke="#fff" stroke-width="0.15">O</text>
<text transform="translate(411.91,414.4) scale(0.95,1)" font-size="12" fill="#333" stroke="#fff" stroke-width="0.15">U</text>
<text transform="translate(421.35,414.4) scale(0.95,1)" font-size="12" fill="#333" stroke="#fff" stroke-width="0.15">T</text>
</svg></body></html>
